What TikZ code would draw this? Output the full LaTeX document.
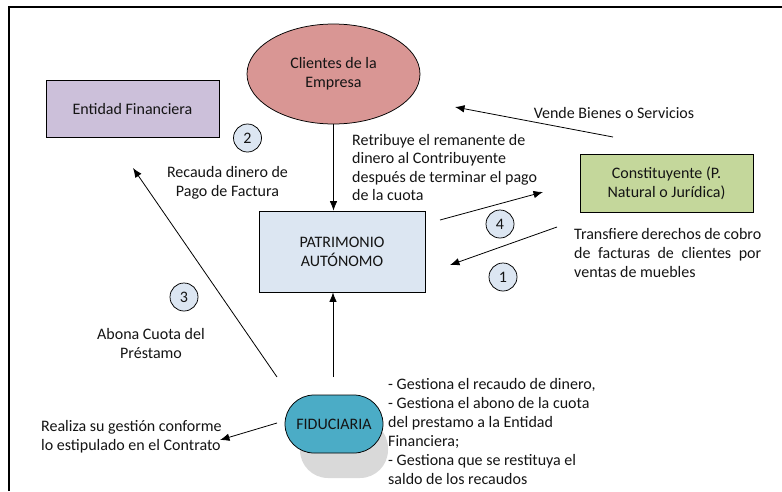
\documentclass[tikz,border=0pt]{standalone}
\usepackage{fontspec}
\setmainfont{Carlito}
\usetikzlibrary{arrows.meta,shapes.geometric,shapes.misc}
\definecolor{entfill}{RGB}{204,192,218}
\definecolor{clifill}{RGB}{217,150,148}
\definecolor{patfill}{RGB}{220,230,242}
\definecolor{confill}{RGB}{196,215,155}
\definecolor{fidfill}{RGB}{75,172,198}
\definecolor{numfill}{RGB}{220,230,242}
\definecolor{shadowgray}{RGB}{217,217,217}
\definecolor{txt}{RGB}{20,20,20}
\begin{document}
\begin{tikzpicture}[x=1pt,y=-1pt,
  font=\fontsize{16}{19}\selectfont, text=txt,
  conn/.style={draw, line width=0.8pt, -{Latex[length=9.5pt,width=7.5pt]}},
  num/.style={circle, draw, line width=0.75pt, fill=numfill, minimum size=28pt, inner sep=0pt},
  box/.style={draw, line width=0.75pt, inner sep=0pt, align=center},
  lbl/.style={inner sep=0pt}]
\useasboundingbox (0,0) rectangle (782,491);
% frame
\draw[line width=2.2pt] (9,491) -- (9,7) -- (782,7);

% nodes
\node[box, fill=entfill, minimum width=173pt, minimum height=57pt] (ent) at (132.5,108.5) {Entidad Financiera};
\node[ellipse, draw, line width=0.75pt, fill=clifill, minimum width=173pt, minimum height=100pt, align=center, inner sep=0pt] (cli) at (333.5,74) {Clientes de la\\Empresa};
\node[box, fill=patfill, minimum width=166pt, minimum height=81pt] (pat) at (342,251.5) {PATRIMONIO\\AUTÓNOMO};
\node[box, fill=confill, minimum width=173pt, minimum height=58pt] (con) at (666.5,183) {Constituyente (P.\\Natural o Jurídica)};
\fill[shadowgray, rounded corners=28pt] (300,420) rectangle (388,478);
\node[rounded rectangle, draw, line width=0.75pt, fill=fidfill, minimum width=98pt, minimum height=58pt, inner sep=0pt] (fid) at (334,424) {FIDUCIARIA};

% number circles
\node[num] (n1) at (503,277) {1};
\node[num] (n2) at (247.5,138) {2};
\node[num] (n3) at (184,297) {3};
\node[num] (n4) at (500,224) {4};

% labels
\node[lbl, align=center] (lrec) at (227.5,182.5) {Recauda dinero de\\Pago de Factura};
\node[lbl, align=left, anchor=west, font=\fontsize{16}{18.3}\selectfont] (lret) at (352,167.5) {Retribuye el remanente de\\dinero al Contribuyente\\después de terminar el pago\\de la cuota};
\node[lbl] (lven) at (614,113) {Vende Bienes o Servicios};
\node[lbl, text width=187pt, align=justify, anchor=west] (ltra) at (574,253) {Transfiere derechos de cobro de facturas de clientes por ventas de muebles};
\node[lbl, align=center] (labo) at (151,343) {Abona Cuota del\\Préstamo};
\node[lbl, align=left, anchor=west] (lrea) at (41,436.5) {Realiza su gestión conforme\\lo estipulado en el Contrato};
\node[lbl, align=left, anchor=west] (lges) at (388,431) {- Gestiona el recaudo de dinero,\\- Gestiona el abono de la cuota\\del prestamo a la Entidad\\Financiera;\\- Gestiona que se restituya el\\saldo de los recaudos};

% connector end points
\coordinate (venS) at (613,137);
\coordinate (venE) at (455,107);
\coordinate (c4S) at (440,220);
\coordinate (c4E) at (543,192);
\coordinate (c1S) at (557,227);
\coordinate (c1E) at (450,265);
\coordinate (c3S) at (277,377);
\coordinate (c3E) at (133,168);
\coordinate (fidTop) at (333,377);
\coordinate (reaS) at (277,423);
\coordinate (reaE) at (220,440);

% connectors
\draw[conn] (cli.south) -- (cli.south |- pat.north);
\draw[conn] (fidTop) -- (fidTop |- pat.south);
\draw[conn] (venS) -- (venE);
\draw[conn] (c4S) -- (c4E);
\draw[conn] (c1S) -- (c1E);
\draw[conn] (c3S) -- (c3E);
\draw[conn] (reaS) -- (reaE);
\end{tikzpicture}
\end{document}
